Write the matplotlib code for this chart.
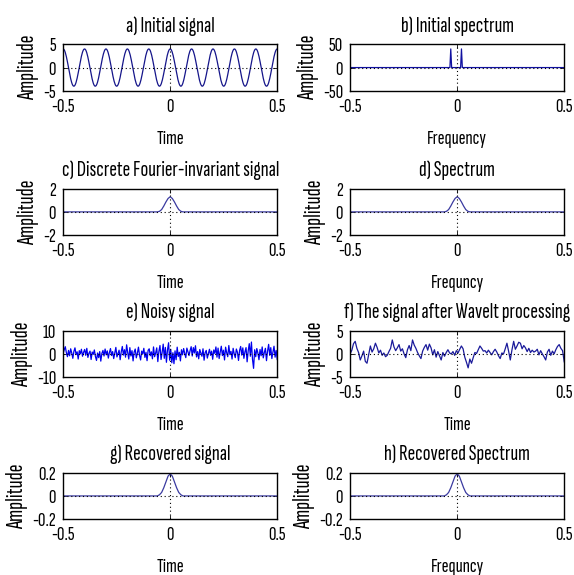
import numpy as np
import matplotlib
matplotlib.use("Agg")
import matplotlib.pyplot as plt

plt.rcParams['font.family'] = ["Sofia Sans Extra Condensed", "Barlow Condensed", "DejaVu Sans"]
plt.rcParams['font.size'] = 15

# a) initial signal: cosine
sig_amp = 4.0
sig_freq = 10.0
t_sig = np.linspace(-0.5, 0.5, 400)

# b) initial spectrum: two spikes near zero
spec_f = [-0.5, -0.034, -0.03, -0.026, 0.016, 0.02, 0.024, 0.5]
spec_a = [0, 0, 40, 0, 0, 40, 0, 0]

# c), d) Fourier-invariant pulse and its spectrum
pulse_t = [-0.5, -0.06, -0.05, -0.04, -0.03, -0.02, -0.01, 0, 0.01, 0.02, 0.03, 0.04, 0.05, 0.06, 0.5]
pulse_c = [0, 0, 0.05, 0.2, 0.5, 0.85, 1.15, 1.3, 1.15, 0.85, 0.5, 0.2, 0.05, 0, 0]
pulse_d = [0, 0, 0.05, 0.2, 0.5, 0.85, 1.15, 1.3, 1.15, 0.85, 0.5, 0.2, 0.05, 0, 0]

# e) noisy signal
noisy = [
    0.2, 1.8, 3.1, 0.5, -1.2, 1.5, -0.8, 2.2, 0.4, -1.9, 1.1, 2.6, -0.3, 0.9, -2.2, 1.4, 0.1, 2.0, -1.0, 0.7,
    1.9, -0.6, 2.4, -1.5, 0.3, 1.2, -2.4, 0.8, -0.2, 1.7, -1.1, -2.8, 0.4, -1.6, 1.0, -3.1, 0.2, 1.5, -0.9, 2.1,
    -0.4, 1.3, -1.8, 0.6, 2.3, -0.7, 1.0, -2.0, 0.5, 2.8, -1.3, 0.2, 1.6, -2.5, 0.9, 3.2, -0.5, 1.8, -1.4, 3.9,
    0.6, -2.2, 2.7, -0.9, 1.4, -3.0, 0.8, 2.1, -1.7, 0.3, 2.9, -0.6, -2.6, 1.2, 0.0, 2.4, -1.5, 0.7, -2.9, 1.6,
    2.2, -0.8, 0.9, -2.1, 3.0, -1.2, 0.4, 2.6, -3.3, 1.1, 3.6, -2.4, 0.6, 4.2, -1.9, 2.8, -3.6, 1.7, 4.8, -2.7,
    2.0, -3.8, 0.5, -4.2, 1.3, -2.5, 2.9, -1.1, 0.7, -3.0, 1.8, -0.4, 2.3, 0.2, -1.6, 2.5, 0.9, -0.7, 1.4, 3.1,
    -0.9, 2.7, 0.4, 3.5, -1.3, 1.0, -2.1, 1.9, 0.3, -1.0, 2.2, -2.7, 0.6, 1.5, -1.8, 0.1, 2.0, -0.6, 1.2, -2.3,
    1.7, 0.2, 3.0, -1.4, 2.5, -2.0, 0.8, 3.3, -0.7, 1.6, -2.6, 2.9, 0.5, -1.2, 3.6, -0.3, 1.1, -2.2, 2.4, 0.0,
    -1.6, 2.1, 0.7, -2.8, 1.5, 3.2, -0.5, 2.6, -1.9, 0.9, 2.7, -3.4, 1.3, 4.4, -1.0, 5.1, -2.3, -6.2, 1.8, -1.2,
    2.3, 0.4, -2.5, 1.9, -0.8, 3.0, -1.7, 0.6, 2.4, -2.9, 1.2, 4.1, -0.6, 2.7, -2.0, 0.8, 3.3, -1.4, 1.5, -2.4,
]

# f) after wavelet processing
wavelet = [
    0.0, 0.8, 2.2, 2.7, 1.2, 0.3, -1.3, -0.4, 0.6, -1.6, -2.0, -0.2, 1.7, 0.4, 1.1, 2.3,
    1.4, 0.2, 0.8, -0.3, 0.2, -0.6, -0.3, 0.5, 1.2, 3.0, 1.5, 0.7, 1.3, 2.0, 0.6, 1.1,
    0.0, -0.8, 0.9, 1.8, 0.7, 3.0, 1.9, 1.2, 0.3, -0.4, -1.0, 0.6, 1.4, 2.0, 0.8, 2.1,
    1.3, -0.2, 0.9, -0.7, 0.5, -0.4, -1.3, 0.3, -0.5, 0.3, 0.9, 0.2, 0.0, 0.5, -0.3, 0.7,
    0.2, 1.0, 1.7, 1.1, -0.7, -1.8, -3.0, -1.1, -2.0, -0.8, 0.3, 0.1, 0.9, 1.7, 1.2, 0.6,
    0.7, 0.2, 0.8, 0.3, -0.2, 0.5, 1.0, 0.4, -0.4, -1.0, 0.2, 0.0, 1.1, 2.3, 0.6, -1.3,
    0.9, 2.7, 1.0, 1.7, 2.5, 2.3, 1.1, 1.8, 1.3, 0.5, 1.2, 0.3, 0.8, 0.4, 0.6, 1.0,
    -0.2, 0.7, 0.0, -0.6, -1.3, 0.4, 1.0, -0.3, 0.6, 0.0, 0.9, 1.6, 2.0, 1.2, 0.7, -1.7,
]

# g), h) recovered signal and spectrum
rec_g = [0, 0, 0.01, 0.03, 0.07, 0.12, 0.17, 0.19, 0.17, 0.12, 0.07, 0.03, 0.01, 0, 0]
rec_h = [0, 0, 0.01, 0.03, 0.07, 0.12, 0.17, 0.19, 0.17, 0.12, 0.07, 0.03, 0.01, 0, 0]

titles = ["a) Initial signal", "b) Initial spectrum",
          "c) Discrete Fourier-invariant signal", "d) Spectrum",
          "e) Noisy signal", "f) The signal after Wavelt processing",
          "g) Recovered signal", "h) Recovered Spectrum"]
xlabels = ["Time", "Frequency", "Time", "Frequncy", "Time", "Time", "Time", "Frequncy"]
ylims = [5, 50, 2, 2, 10, 5, 0.2, 0.2]
ytick_txt = [["-5", "0", "5"], ["-50", "0", "50"], ["-2", "0", "2"], ["-2", "0", "2"],
             ["-10", "0", "10"], ["-5", "0", "5"], ["-0.2", "0", "0.2"], ["-0.2", "0", "0.2"]]

curves = [
    (t_sig, sig_amp * np.cos(2 * np.pi * sig_freq * t_sig)),
    (spec_f, spec_a),
    (pulse_t, pulse_c),
    (pulse_t, pulse_d),
    (np.linspace(-0.5, 0.5, len(noisy)), noisy),
    (np.linspace(-0.5, 0.5, len(wavelet)), wavelet),
    (pulse_t, rec_g),
    (pulse_t, rec_h),
]
colors = ["#15158a", "#1010a0", "#3a3aa0", "#3a3aa0", "#0000ee", "#1a1a9a", "#3a3aa0", "#3a3aa0"]

fig = plt.figure(figsize=(5.74, 5.75), dpi=100)
lefts = [0.110, 0.610]
bottoms = [0.842, 0.591, 0.344, 0.097]
W, H = 0.373, 0.081

for k in range(8):
    r, c = divmod(k, 2)
    ax = fig.add_axes([lefts[c], bottoms[r], W, H])
    x, y = curves[k]
    ax.plot(x, y, color=colors[k], lw=0.9, zorder=2)
    ax.axhline(0, color="k", ls=(0, (1, 2.5)), lw=0.8, zorder=3)
    ax.axvline(0, color="k", ls=(0, (1, 2.5)), lw=0.8, zorder=3)
    lim = ylims[k]
    ax.set_xlim(-0.5, 0.5)
    ax.set_ylim(-lim, lim)
    ax.set_xticks([-0.5, 0, 0.5])
    ax.set_xticklabels(["-0.5", "0", "0.5"])
    ax.set_yticks([-lim, 0, lim])
    ax.set_yticklabels(ytick_txt[k])
    ax.tick_params(direction="in", length=3, width=0.6, top=True, right=True, pad=5)
    for s in ax.spines.values():
        s.set_linewidth(1.0)
    ax.set_title(titles[k], pad=9, fontsize=16.5)
    ax.set_xlabel(xlabels[k], labelpad=10)
    ax.set_ylabel("Amplitude", labelpad=3, fontsize=17)

fig.savefig("out.png", dpi=100, facecolor="white")
